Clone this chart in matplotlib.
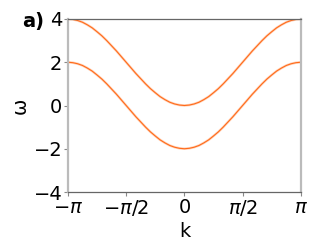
import numpy as np
import matplotlib
matplotlib.use("Agg")
import matplotlib.pyplot as plt

# k in units of pi (steps of 1/24), omega
k_over_pi = [i / 24 for i in range(-24, 25)]
half_upper = [0.0, 0.02, 0.07, 0.15, 0.27, 0.41, 0.59, 0.78, 1.0, 1.24, 1.48, 1.74,
              2.0, 2.26, 2.52, 2.76, 3.0, 3.22, 3.41, 3.59, 3.73, 3.85, 3.93, 3.98, 4.0]
omega_upper = half_upper[::-1] + half_upper[1:]
omega_lower = [w - 2.0 for w in omega_upper]
xtick_labels = [r"$-\pi$", r"$-\pi/2$", "0", r"$\pi/2$", r"$\pi$"]
yticks = [-4, -2, 0, 2, 4]

k = np.array(k_over_pi) * np.pi

fig = plt.figure(figsize=(3.19, 2.5), dpi=100)
ax = fig.add_axes([0.213, 0.232, 0.730, 0.692])

for w in (omega_upper, omega_lower):
    ax.plot(k, w, color="#ffb080", lw=1.8, alpha=0.55)
    ax.plot(k, w, color="#ff6a1a", lw=0.8)

ax.set_xlim(-np.pi, np.pi)
ax.set_ylim(-4, 4)
ax.set_xticks(np.pi * np.array([-1, -0.5, 0, 0.5, 1]))
ax.set_xticklabels(xtick_labels)
ax.set_yticks(yticks)
ax.tick_params(labelsize=14, length=3, width=0.8, color="#888888", pad=1)
ax.set_xlabel("k", fontsize=14, labelpad=3)
ax.set_ylabel("ω", fontsize=14, labelpad=3)

for s in ("left", "right"):
    ax.spines[s].set_color("#bbbbbb")
    ax.spines[s].set_linewidth(1.6)
for s in ("top", "bottom"):
    ax.spines[s].set_color("#666666")
    ax.spines[s].set_linewidth(0.9)

fig.text(0.07, 0.915, "a)", fontsize=14, fontweight="bold", va="center")

fig.savefig("out.png", dpi=100)
